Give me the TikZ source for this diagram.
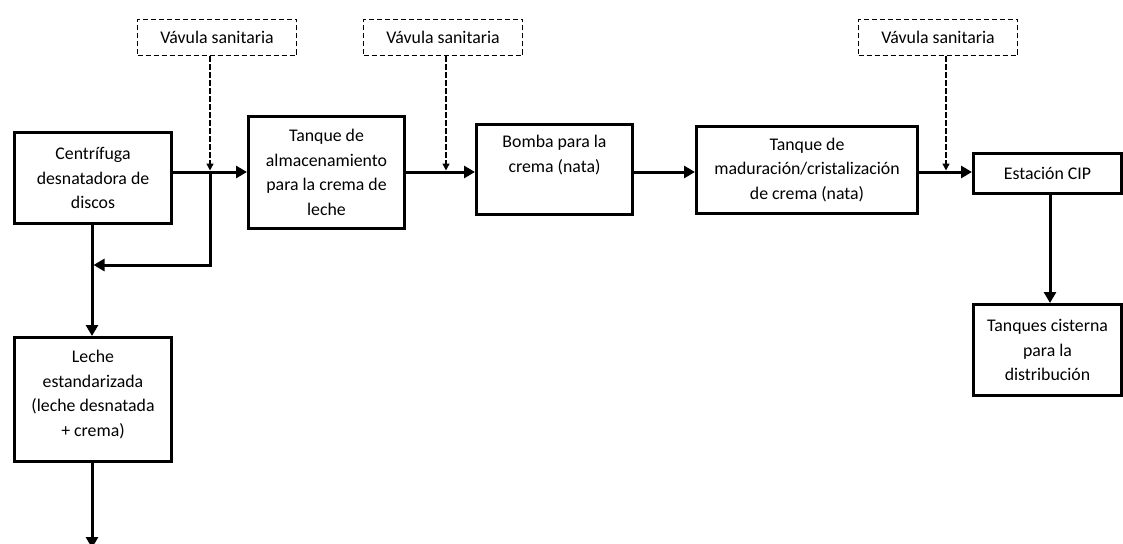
\documentclass[tikz,border=0pt]{standalone}
\usepackage{fontspec}
\setmainfont{Carlito}
\usetikzlibrary{arrows.meta}
\begin{document}
\begin{tikzpicture}[x=1pt,y=-1pt,
  box/.style={draw,line width=3pt,align=center,inner sep=0pt,
    font={\fontsize{17.8}{24.5}\selectfont}},
  valve/.style={draw,line width=1.4pt,dash pattern=on 5pt off 3pt,align=center,
    minimum width=159pt,minimum height=36pt,inner sep=0pt,
    font={\fontsize{17.8}{24.5}\selectfont}},
  flow/.style={line width=3pt,-{Triangle[length=11pt,width=12pt]}},
  feed/.style={line width=1.4pt,dash pattern=on 5.5pt off 2.5pt,
    -{Triangle[length=7pt,width=7pt]}}]
\useasboundingbox (0,0) rectangle (1123,543);

% process units
\node[box,minimum width=157pt,minimum height=91pt] (cent) at (93,178)
  {Centrífuga\\desnatadora de\\discos};
\node[box,minimum width=156pt,minimum height=112pt] (tanque) at (326.5,172.5)
  {Tanque de\\almacenamiento\\para la crema de\\leche};
\node[box,minimum width=156pt,minimum height=90pt] (bomba) at (554.5,169.5)
  {Bomba para la\\crema (nata)\\\strut};
\node[box,minimum width=221pt,minimum height=87pt] (madur) at (807,170)
  {Tanque de\\maduración/cristalización\\de crema (nata)};
\node[box,minimum width=148pt,minimum height=40pt] (cip) at (1047.5,173.5)
  {Estación CIP};
\node[box,minimum width=148pt,minimum height=91pt] (cist) at (1047.5,350)
  {Tanques cisterna\\para la\\distribución};
\node[box,minimum width=157pt,minimum height=124pt] (leche) at (93,399.5)
  {Leche\\estandarizada\\(leche desnatada\\+ crema)\\[-12pt]\mbox{}};

% sanitary valves
\node[valve] (vA) at (217,37.5) {Vávula sanitaria};
\node[valve] (vB) at (443,37.5) {Vávula sanitaria};
\node[valve] (vC) at (938,37.5) {Vávula sanitaria};

% junction points on the main line
\coordinate (m) at (0,172);
\coordinate (jA) at (210,172);
\coordinate (jB) at (446,172);
\coordinate (jC) at (946,172);
\coordinate (ret) at (210,265);
\coordinate (down) at (92,265);
\coordinate (out) at (92,548);

% main cream line
\draw[flow] (cent.east |- m) -- (tanque.west |- m);
\draw[flow] (tanque.east |- m) -- (bomba.west |- m);
\draw[flow] (bomba.east |- m) -- (madur.west |- m);
\draw[flow] (madur.east |- m) -- (cip.west |- m);
\draw[flow] ([xshift=2.5pt]cip.south) -- ([xshift=2.5pt]cist.north);

% valve feeds
\draw[feed,shorten >=1.5pt] (jA |- vA.south) -- (jA);
\draw[feed,shorten >=1.5pt] (jB |- vB.south) -- (jB);
\draw[feed,shorten >=1.5pt] (jC |- vC.south) -- (jC);

% return branch and standardised milk
\draw[flow,shorten >=1.5pt] (jA) -- (ret) -- (down);
\draw[flow] (down |- cent.south) -- (down |- leche.north);
\draw[flow] (down |- leche.south) -- (out);
\end{tikzpicture}
\end{document}
